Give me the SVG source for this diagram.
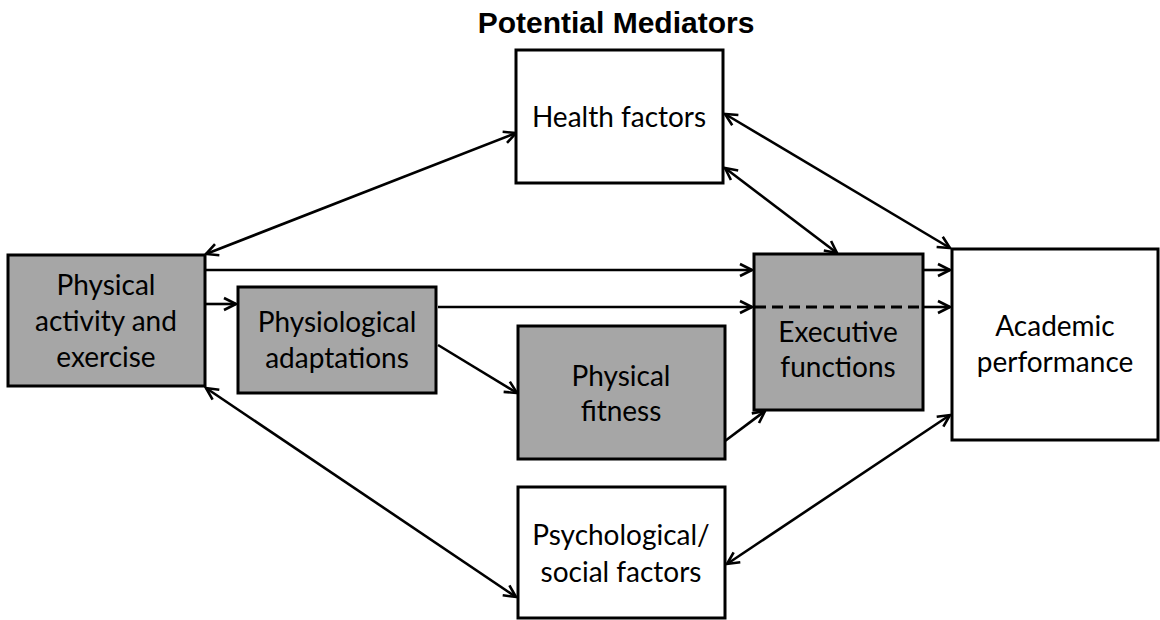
<svg xmlns="http://www.w3.org/2000/svg" width="1160" height="620" viewBox="0 0 1160 620">
<defs>
<marker id="ah" viewBox="0 0 16 16" refX="14" refY="8" markerWidth="16" markerHeight="16" markerUnits="userSpaceOnUse" orient="auto-start-reverse">
<path d="M2,2 L14,8 L2,14" fill="none" stroke="#000" stroke-width="2.6" stroke-linejoin="miter"/>
</marker>
</defs>
<style>
.box{stroke:#000;stroke-width:3}
.g{fill:#a6a6a6}
.w{fill:#fff}
.t{font-family:Lato,"Open Sans",sans-serif;font-size:28px;fill:#000;text-anchor:middle}
.c{stroke:#000;stroke-width:2.6;fill:none}
.a{marker-end:url(#ah)}
.b{marker-start:url(#ah);marker-end:url(#ah)}
</style>
<rect width="1160" height="620" fill="#fff"/>
<text x="616" y="33" style="font-family:'Liberation Sans',Arial,sans-serif;font-size:30px;font-weight:bold;text-anchor:middle">Potential Mediators</text>
<g id="connectors">
<line class="c b" x1="516" y1="133" x2="206" y2="254"/>
<line class="c b" x1="725" y1="114" x2="950" y2="248"/>
<line class="c b" x1="725" y1="168" x2="837" y2="253"/>
<line class="c a" x1="206" y1="270" x2="752" y2="270"/>
<line class="c a" x1="206" y1="304" x2="236" y2="304"/>
<line class="c a" x1="438" y1="307" x2="752" y2="307"/>
<line class="c a" x1="922" y1="307" x2="950" y2="307"/>
<line class="c a" x1="924" y1="270" x2="950" y2="270"/>
<line class="c a" x1="438" y1="345" x2="517" y2="393"/>
<line class="c a" x1="725" y1="441" x2="765" y2="411"/>
<line class="c b" x1="206" y1="388" x2="516" y2="597"/>
<line class="c b" x1="950" y1="415" x2="727" y2="564"/>
</g>
<g id="health">
<rect class="box w" x="516" y="50" width="207" height="133"/>
<text class="t" x="619" y="127">Health factors</text>
</g>
<g id="pa">
<rect class="box g" x="8" y="255" width="197" height="131"/>
<text class="t" x="106" y="295">Physical</text>
<text class="t" x="106" y="331">activity and</text>
<text class="t" x="106" y="367">exercise</text>
</g>
<g id="physio">
<rect class="box g" x="238" y="287" width="198" height="106"/>
<text class="t" x="337" y="332">Physiological</text>
<text class="t" x="337" y="368">adaptations</text>
</g>
<g id="fitness">
<rect class="box g" x="518" y="326" width="207" height="133"/>
<text class="t" x="621" y="386">Physical</text>
<text class="t" x="621" y="421">fitness</text>
</g>
<g id="exec">
<rect class="box g" x="754" y="254" width="169" height="156"/>
<line x1="755" y1="307" x2="922" y2="307" stroke="#000" stroke-width="3" stroke-dasharray="11,6"/>
<text class="t" x="838" y="342">Executive</text>
<text class="t" x="838" y="377">functions</text>
</g>
<g id="academic">
<rect class="box w" x="952" y="249" width="206" height="191"/>
<text class="t" x="1055" y="336">Academic</text>
<text class="t" x="1055" y="372">performance</text>
</g>
<g id="psych">
<rect class="box w" x="518" y="487" width="207" height="131"/>
<text class="t" x="621" y="545">Psychological/</text>
<text class="t" x="621" y="582">social factors</text>
</g>
</svg>
